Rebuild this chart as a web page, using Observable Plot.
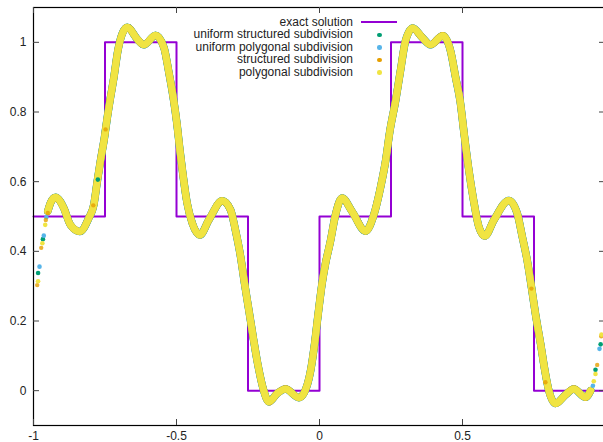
<!DOCTYPE html>
<html><head><meta charset="utf-8">
<script src="https://cdn.jsdelivr.net/npm/d3@7"></script>
<script src="https://cdn.jsdelivr.net/npm/@observablehq/plot@0.6"></script>
<style>
html,body{margin:0;padding:0;background:#fff;overflow:hidden;width:603px;height:442px}
#wrap{position:relative;width:603px;height:442px;overflow:hidden}
#wrap svg{max-width:none !important}
.lg{position:absolute;font:12px "Liberation Sans",Arial,sans-serif;color:#222;white-space:nowrap;line-height:14px}
</style></head><body><div id="wrap"></div>
<script>
// exact solution (step function)
const exactX = [-1, -0.75, -0.5, -0.25, 0, 0.25, 0.5, 0.75, 1];
const exactY = [0.5, 1, 0.5, 0, 0.5, 1, 0.5, 0, 0];

// numerical solution, main band (all four subdivisions coincide here)
const curveX = [-0.950,-0.940,-0.923,-0.908,-0.894,-0.871,-0.838,-0.807,-0.789,-0.777,-0.766,-0.752,-0.742,-0.731,-0.719,-0.705,-0.690,-0.672,-0.637,-0.614,-0.573,-0.544,-0.527,-0.512,-0.499,-0.488,-0.479,-0.463,-0.445,-0.418,-0.387,-0.340,-0.311,-0.294,-0.276,-0.262,-0.247,-0.232,-0.216,-0.195,-0.177,-0.148,-0.119,-0.072,-0.055,-0.031,-0.017,-0.006,0.009,0.021,0.038,0.056,0.079,0.114,0.161,0.190,0.213,0.231,0.246,0.266,0.283,0.301,0.326,0.359,0.388,0.431,0.458,0.476,0.492,0.505,0.521,0.538,0.557,0.578,0.610,0.662,0.691,0.709,0.726,0.741,0.755,0.773,0.788,0.802,0.825,0.860,0.889,0.930,0.948];
const curveY = [0.515,0.540,0.555,0.545,0.524,0.476,0.457,0.495,0.534,0.601,0.659,0.726,0.784,0.841,0.899,0.976,1.024,1.043,1.009,0.993,1.020,0.985,0.915,0.845,0.770,0.690,0.630,0.539,0.481,0.447,0.490,0.545,0.519,0.461,0.385,0.308,0.231,0.154,0.077,0.000,-0.032,-0.008,0.005,-0.020,-0.008,0.058,0.135,0.211,0.308,0.365,0.428,0.505,0.553,0.514,0.458,0.505,0.582,0.659,0.745,0.832,0.918,1.005,1.041,1.014,0.993,1.019,0.976,0.899,0.830,0.742,0.640,0.550,0.471,0.444,0.490,0.546,0.510,0.442,0.375,0.298,0.221,0.135,0.058,0.000,-0.037,-0.012,0.005,-0.019,0.000];

// separated points near the domain ends, per series
const uniStructX = [-0.984,-0.967,-0.775,0.965,0.983];
const uniStructY = [0.338,0.435,0.606,0.060,0.133];
const uniPolyX = [-0.979,-0.964,-0.955,0.956,0.979];
const uniPolyY = [0.356,0.445,0.498,0.014,0.120];
const structX = [-0.987,-0.973,-0.957,-0.950,-0.748,-0.791,0.741,0.790,0.971,0.985];
const structY = [0.303,0.410,0.490,0.510,0.750,0.532,0.293,0.024,0.074,0.156];
const polyX = [-0.984,-0.969,-0.959,0.959,0.965,0.986];
const polyY = [0.314,0.423,0.476,0.027,0.048,0.161];

const xTicks = [-1, -0.5, 0, 0.5, 1];
const xTickLabels = [-1, -0.5, 0, 0.5];   // the "1" label falls outside the picture
const yTicks = [0, 0.2, 0.4, 0.6, 0.8, 1];
const legendLabels = ["exact solution","uniform structured subdivision","uniform polygonal subdivision","structured subdivision","polygonal subdivision"];
const colors = ["#9400d3","#009e73","#56b4e9","#e69f00","#f0e442"];

const exact = exactX.map((x,i)=>({x, y: exactY[i]}));
const curve = curveX.map((x,i)=>({x, y: curveY[i]}));
const pts = (X,Y)=>X.map((x,i)=>({x, y: Y[i]}));

const W = 612, H = 442, mL = 33, mR = 7, mT = 7, mB = 17;
const fw = W - mL - mR, fh = H - mT - mB;
const band = (c, w) => Plot.line(curve, {x: "x", y: "y", curve: "monotone-x", stroke: c, strokeWidth: w, strokeLinecap: "round", strokeLinejoin: "round"});

const chart = Plot.plot({
  width: W, height: H,
  marginLeft: mL, marginRight: mR, marginTop: mT, marginBottom: mB,
  style: {fontFamily: "'Liberation Sans', Arial, sans-serif", fontSize: "12px", background: "#fff", overflow: "visible", maxWidth: "none"},
  x: {domain: [-1, 1]},
  y: {domain: [-0.1, 1.1]},
  marks: [
    Plot.line(exact, {x: "x", y: "y", curve: "step-after", stroke: colors[0], strokeWidth: 2}),
    band(colors[1], 7.6),
    band(colors[2], 7.4),
    band(colors[3], 7.2),
    band(colors[4], 7.0),
    Plot.dot(pts(uniStructX, uniStructY), {x: "x", y: "y", r: 2.3, fill: colors[1]}),
    Plot.dot(pts(uniPolyX, uniPolyY), {x: "x", y: "y", r: 2.3, fill: colors[2]}),
    Plot.dot(pts(structX, structY), {x: "x", y: "y", r: 2.2, fill: colors[3], fillOpacity: 0.8}),
    Plot.dot(pts(polyX, polyY), {x: "x", y: "y", r: 2.3, fill: colors[4]}),
    Plot.frame({stroke: "#000", strokeWidth: 1.2}),
    Plot.tickY(yTicks, {y: d => d, stroke: "#444", insetRight: fw - 6}),
    Plot.tickY(yTicks, {y: d => d, stroke: "#444", insetLeft: fw - 6}),
    Plot.tickX(xTicks, {x: d => d, stroke: "#444", insetTop: fh - 6}),
    Plot.tickX(xTicks, {x: d => d, stroke: "#444", insetBottom: fh - 6}),
    Plot.axisY(yTicks, {anchor: "left", tickSize: 0, tickPadding: 7, label: null, tickFormat: d => String(d), fill: "#222", fontSize: 12}),
    Plot.axisX(xTickLabels, {anchor: "bottom", tickSize: 0, tickPadding: 6, label: null, tickFormat: d => String(d), fill: "#222", fontSize: 12})
  ]
});
const wrap = document.getElementById("wrap");
wrap.appendChild(chart);

// legend (gnuplot style, inside the frame, top)
legendLabels.forEach((lab, i) => {
  const cy = 22 + i * 12.5;
  const t = document.createElement("div");
  t.className = "lg";
  t.style.right = (603 - 353) + "px";
  t.style.top = (cy - 7.5) + "px";
  t.textContent = lab;
  wrap.appendChild(t);
  const s = document.createElement("div");
  s.style.position = "absolute";
  if (i === 0) {
    s.style.left = "361px"; s.style.top = (cy - 1) + "px";
    s.style.width = "36px"; s.style.height = "2px";
    s.style.background = colors[0];
  } else {
    s.style.left = "377px"; s.style.top = (cy - 2) + "px";
    s.style.width = "4.5px"; s.style.height = "4.5px";
    s.style.borderRadius = "50%";
    s.style.background = colors[i];
  }
  wrap.appendChild(s);
});
</script>
</body></html>
